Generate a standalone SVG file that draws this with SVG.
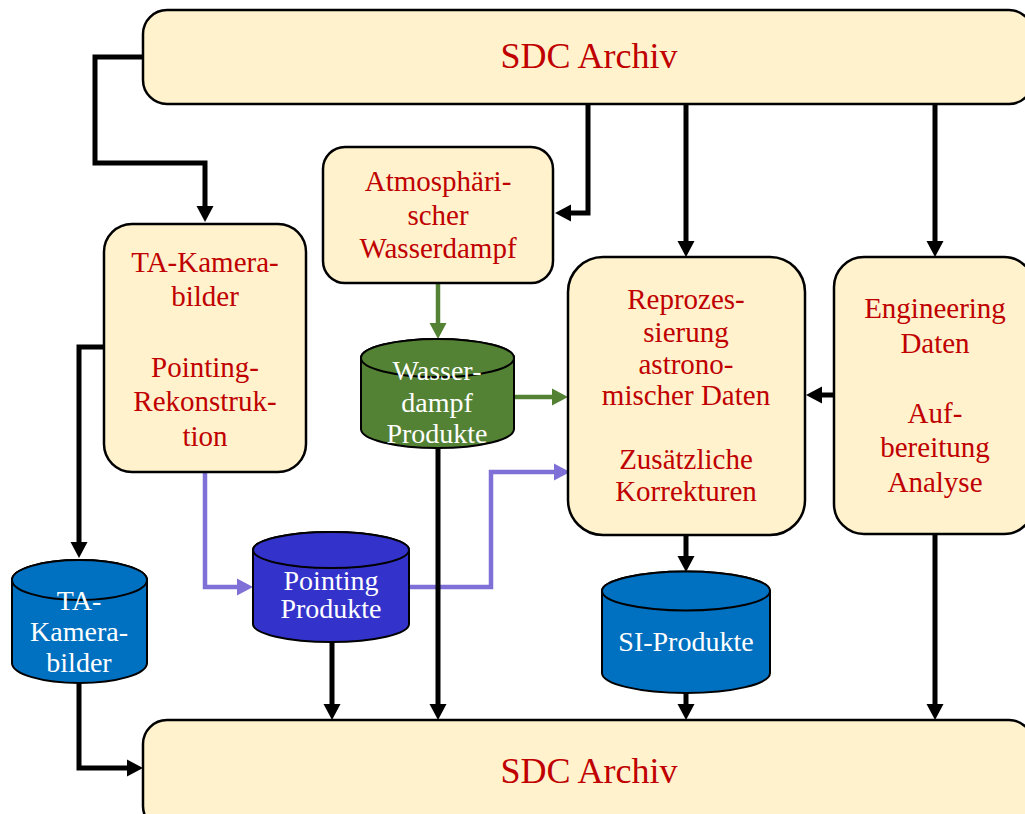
<svg xmlns="http://www.w3.org/2000/svg" width="1025" height="814" viewBox="0 0 1025 814">
<style>
.box{fill:#FFF2CC;stroke:#000;stroke-width:2.5}
.cyl{stroke:#000;stroke-width:2}
.t{font-family:"Liberation Serif","Times New Roman",serif;font-size:29px;fill:#C00000;text-anchor:middle}
.big{font-size:36px}
.w{font-family:"Liberation Serif","Times New Roman",serif;font-size:28px;fill:#FFFFFF;text-anchor:middle}
.k{fill:none;stroke:#000;stroke-width:5;stroke-linejoin:miter}
.g{fill:none;stroke:#548235;stroke-width:4.5}
.p{fill:none;stroke:#7F70D8;stroke-width:4.5;stroke-linejoin:miter}
</style>
<defs>
<marker id="ak" markerUnits="userSpaceOnUse" markerWidth="16" markerHeight="17" refX="2" refY="8.5" orient="auto" overflow="visible"><path d="M0,0 L16,8.5 L0,17 Z" fill="#000"/></marker>
<marker id="ag" markerUnits="userSpaceOnUse" markerWidth="16" markerHeight="17" refX="2" refY="8.5" orient="auto" overflow="visible"><path d="M0,0 L16,8.5 L0,17 Z" fill="#548235"/></marker>
<marker id="ap" markerUnits="userSpaceOnUse" markerWidth="16" markerHeight="17" refX="2" refY="8.5" orient="auto" overflow="visible"><path d="M0,0 L16,8.5 L0,17 Z" fill="#7F70D8"/></marker>
</defs>

<g id="connectors">
<path class="k" d="M143,57 H95 V163 H205 V208" marker-end="url(#ak)"/>
<path class="k" d="M588,104 V213 H569" marker-end="url(#ak)"/>
<path class="k" d="M686,104 V243" marker-end="url(#ak)"/>
<path class="k" d="M935,104 V243" marker-end="url(#ak)"/>
<path class="k" d="M834,395 H820" marker-end="url(#ak)"/>
<path class="k" d="M105,347 H79 V544" marker-end="url(#ak)"/>
<path class="k" d="M79,683 V768 H129" marker-end="url(#ak)"/>
<path class="p" d="M205,472 V587 H239" marker-end="url(#ap)"/>
<path class="p" d="M409,587 H491 V472 H556" marker-end="url(#ap)"/>
<path class="g" d="M438,283 V325" marker-end="url(#ag)"/>
<path class="g" d="M514,397 H554" marker-end="url(#ag)"/>
<path class="k" d="M438,448 V706" marker-end="url(#ak)"/>
<path class="k" d="M332,642 V706" marker-end="url(#ak)"/>
<path class="k" d="M686,535 V558" marker-end="url(#ak)"/>
<path class="k" d="M686,693 V706" marker-end="url(#ak)"/>
<path class="k" d="M935,534 V706" marker-end="url(#ak)"/>
</g>

<g id="sdc-top">
<rect class="box" x="143" y="10" width="890" height="94" rx="24"/>
<text class="t big" x="589" y="68">SDC Archiv</text>
</g>

<g id="sdc-bottom">
<rect class="box" x="143" y="720" width="890" height="110" rx="24"/>
<text class="t big" x="589" y="783">SDC Archiv</text>
</g>

<g id="ta-box">
<rect class="box" x="104" y="224" width="202" height="248" rx="28"/>
<text class="t" x="205" y="272">TA-Kamera-</text>
<text class="t" x="205" y="306">bilder</text>
<text class="t" x="205" y="377">Pointing-</text>
<text class="t" x="205" y="411">Rekonstruk-</text>
<text class="t" x="205" y="446">tion</text>
</g>

<g id="atmos-box">
<rect class="box" x="323" y="147" width="230" height="136" rx="22"/>
<text class="t" x="438" y="191">Atmosphäri-</text>
<text class="t" x="438" y="225">scher</text>
<text class="t" x="438" y="258">Wasserdampf</text>
</g>

<g id="reproz-box">
<rect class="box" x="568" y="257" width="237" height="278" rx="35"/>
<text class="t" x="686" y="309">Reprozes-</text>
<text class="t" x="686" y="342">sierung</text>
<text class="t" x="686" y="374">astrono-</text>
<text class="t" x="686" y="405">mischer Daten</text>
<text class="t" x="686" y="469">Zusätzliche</text>
<text class="t" x="686" y="501">Korrekturen</text>
</g>

<g id="eng-box">
<rect class="box" x="834" y="257" width="200" height="277" rx="30"/>
<text class="t" x="935" y="318">Engineering</text>
<text class="t" x="935" y="353">Daten</text>
<text class="t" x="935" y="423">Auf-</text>
<text class="t" x="935" y="457">bereitung</text>
<text class="t" x="935" y="492">Analyse</text>
</g>

<g id="ta-cyl">
<path class="cyl" fill="#0070C0" d="M12,580 A67.5,20 0 0 1 147,580 V663 A67.5,20 0 0 1 12,663 Z"/>
<ellipse class="cyl" fill="#0070C0" cx="79.5" cy="580" rx="67.5" ry="20"/>
<text class="w" x="79" y="610">TA-</text>
<text class="w" x="79" y="641">Kamera-</text>
<text class="w" x="79" y="672">bilder</text>
</g>

<g id="pointing-cyl">
<path class="cyl" fill="#3333CC" d="M253,550 A78,18 0 0 1 409,550 V624 A78,18 0 0 1 253,624 Z"/>
<ellipse class="cyl" fill="#3333CC" cx="331" cy="550" rx="78" ry="18"/>
<text class="w" x="331" y="590">Pointing</text>
<text class="w" x="331" y="618">Produkte</text>
</g>

<g id="wasser-cyl">
<path class="cyl" fill="#548235" d="M361,358 A76.5,19 0 0 1 514,358 V429 A76.5,19 0 0 1 361,429 Z"/>
<ellipse class="cyl" fill="#548235" cx="437.5" cy="358" rx="76.5" ry="19"/>
<text class="w" x="437" y="380">Wasser-</text>
<text class="w" x="437" y="412">dampf</text>
<text class="w" x="437" y="443">Produkte</text>
</g>

<g id="si-cyl">
<path class="cyl" fill="#0070C0" d="M602,591 A84,19.5 0 0 1 770,591 V673 A84,20 0 0 1 602,673 Z"/>
<ellipse class="cyl" fill="#0070C0" cx="686" cy="591" rx="84" ry="19.5"/>
<text class="w" x="686" y="651">SI-Produkte</text>
</g>
</svg>
